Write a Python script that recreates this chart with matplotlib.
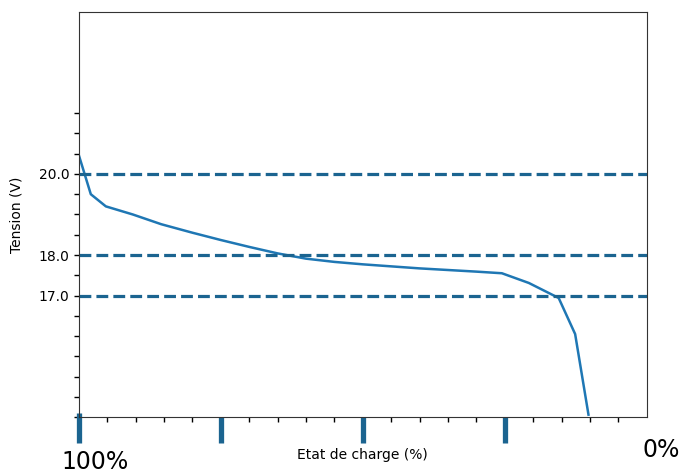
import numpy as np
import matplotlib
matplotlib.use("Agg")
import matplotlib.pyplot as plt

# discharge curve: x runs from full (0) to empty (20)
charge = [0, 0.42, 0.95, 1.9, 2.9, 4.0, 5.0, 6.0, 7.0, 8.0, 9.0, 10.0, 12.0, 14.0, 14.9, 15.85, 16.9, 17.48, 17.95]
tension = [20.46, 19.5, 19.2, 19.0, 18.76, 18.55, 18.37, 18.2, 18.04, 17.91, 17.83, 17.77, 17.67, 17.59, 17.55, 17.31, 16.94, 16.05, 14.06]

seuils = [20.0, 18.0, 17.0]          # horizontal reference levels
repere_x = [0, 5, 10, 15]            # emphasised x positions
yticks = np.arange(14.0, 22.0, 0.5)
xticks = np.arange(0, 20, 1)

bleu = "#1f77b4"
bleu_fonce = "#1b6490"

fig = plt.figure(figsize=(6.8, 4.74), dpi=100)
ax = fig.add_axes([0.116, 0.12, 0.835, 0.855])

ax.plot(charge, tension, color=bleu, lw=1.8)
for s in seuils:
    ax.axhline(s, color=bleu_fonce, ls="--", lw=2.3)

ax.set_xlim(0, 20)
ax.set_ylim(14, 24)

ax.set_yticks(yticks)
ax.set_yticklabels(["%.1f" % v if v in seuils else "" for v in yticks])
ax.set_xticks(xticks)
ax.set_xticklabels([])
ax.tick_params(length=3.5, width=1, labelsize=10)

for sp in ax.spines.values():
    sp.set_color("#333333")

# thick marks below the x axis
for i, xr in enumerate(repere_x):
    top = 14.1 if i == 0 else 14.0
    ax.plot([xr, xr], [top, 13.37], color=bleu_fonce, lw=3.8,
            solid_capstyle="butt", clip_on=False)

ax.set_ylabel("Tension (V)", fontsize=10)
ax.yaxis.set_label_coords(-0.098, 0.5)
ax.set_xlabel("Etat de charge (%)", fontsize=10, labelpad=15)

fig.text(0.14, 0.0, "100%", fontsize=17, ha="center", va="bottom")
fig.text(0.973, 0.025, "0%", fontsize=17, ha="center", va="bottom")

fig.savefig("out.png", dpi=100)
